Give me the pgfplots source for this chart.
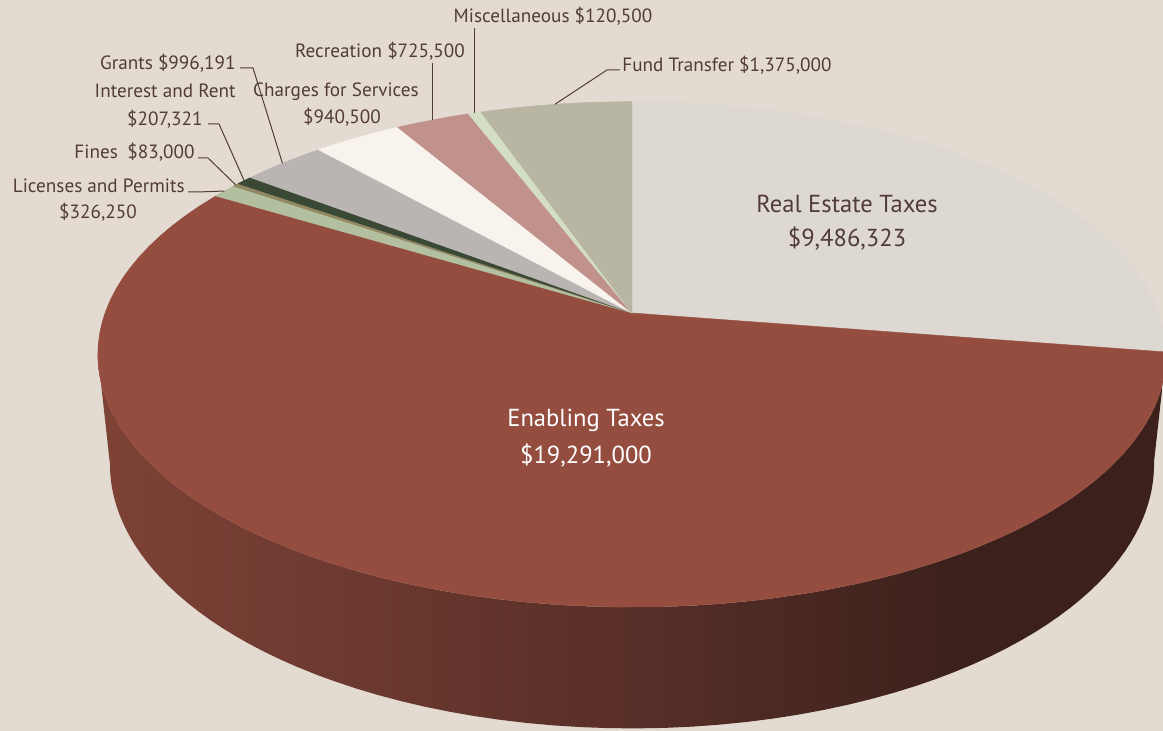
\documentclass[border=0pt]{standalone}
\usepackage{fontspec}
\setmainfont{PT Sans}
\usepackage{pgfplots}
\pgfplotsset{compat=1.18}

\definecolor{bgc}{RGB}{227,219,209}
\definecolor{textc}{RGB}{82,60,54}
\definecolor{realc}{RGB}{222,216,211}
\definecolor{enablec}{RGB}{149,77,64}
\definecolor{licc}{RGB}{178,192,160}
\definecolor{finesc}{RGB}{146,136,100}
\definecolor{intc}{RGB}{58,72,54}
\definecolor{grantc}{RGB}{186,181,178}
\definecolor{chargec}{RGB}{249,243,238}
\definecolor{recc}{RGB}{193,145,139}
\definecolor{miscc}{RGB}{212,222,197}
\definecolor{fundc}{RGB}{184,181,163}
\definecolor{wallL}{RGB}{126,66,54}
\definecolor{wallM}{RGB}{88,47,40}
\definecolor{wallR}{RGB}{59,32,28}

\pgfdeclarehorizontalshading{wallshade}{100bp}{color(0bp)=(wallL); color(25bp)=(wallL);
  color(50bp)=(wallM); color(66bp)=(wallR); color(100bp)=(wallR)}

% revenue in millions of dollars, clockwise from 12 o'clock:
% real estate, enabling, licenses, fines, interest, grants, charges, recreation, misc, fund transfer
\def\pievalues{9.486323,19.291,0.32625,0.083,0.207321,0.996191,0.9405,0.7255,0.1205,1.375}

\gdef\pietotal{0}
\foreach \v in \pievalues {\pgfmathsetmacro\tmp{\pietotal+\v}\xdef\pietotal{\tmp}}
\expandafter\xdef\csname th0\endcsname{90}
\gdef\piecum{0}
\foreach \v [count=\i] in \pievalues {%
  \pgfmathsetmacro\tmp{\piecum+\v}\xdef\piecum{\tmp}%
  \pgfmathsetmacro\ang{90-360*\piecum/\pietotal}%
  \expandafter\xdef\csname th\i\endcsname{\ang}}
\def\thname#1{\csname th#1\endcsname}

% tilted disc, drawn in pixel units (y downwards)
\tikzset{declare function={
  tq(\a)=atan2(0.75*sin(\a),cos(\a));
  pieu(\a)=632+527*cos(tq(\a))/(1+0.164*sin(tq(\a)));
  piev(\a)=313-246*sin(tq(\a))/(1+0.164*sin(tq(\a)));
  wallu(\a)=632+515*cos(tq(\a))/(1+0.164*sin(tq(\a)));
  wallv(\a)=421-257*sin(tq(\a))/(1+0.164*sin(tq(\a)));
}}
\tikzset{
  small/.style={font=\fontsize{9.6}{11}\selectfont, text=textc, inner sep=0pt},
  big/.style={font=\fontsize{12.3}{14}\selectfont, inner sep=0pt},
}

\newcommand\pieslice[3]{%
  \filldraw[fill=#3, draw=#3, line width=0.2pt] (632,313)
    \foreach \k in {0,...,60} {-- ({pieu(\thname{#1}+(\thname{#2}-(\thname{#1}))*\k/60)},
                                   {piev(\thname{#1}+(\thname{#2}-(\thname{#1}))*\k/60)})} -- cycle;}
\newcommand\midpt[2]{{pieu((\thname{#1}+\thname{#2})/2)},{piev((\thname{#1}+\thname{#2})/2)}}

\begin{document}
\begin{tikzpicture}
\begin{axis}[
  width=581.5pt, height=365.5pt, scale only axis,
  xmin=0, xmax=1163, ymin=0, ymax=731, y dir=reverse,
  hide axis,
]
\fill[bgc] (0,0) rectangle (1163,731);
\coordinate (ll) at (0,731);
\coordinate (ur) at (1163,0);

% side wall of the enabling taxes slice
\shade[shading=wallshade] ({pieu(\thname1)},{piev(\thname1)})
  \foreach \k in {1,...,80} {-- ({pieu(\thname1+(-167.5-(\thname1))*\k/80)},{piev(\thname1+(-167.5-(\thname1))*\k/80)})}
  \foreach \k in {0,...,80} {-- ({wallu(-167.5+(\thname1+167.5)*\k/80)},{wallv(-167.5+(\thname1+167.5)*\k/80)})}
  -- cycle;

\pieslice{0}{1}{realc}
\pieslice{1}{2}{enablec}
\pieslice{2}{3}{licc}
\pieslice{3}{4}{finesc}
\pieslice{4}{5}{intc}
\pieslice{5}{6}{grantc}
\pieslice{6}{7}{chargec}
\pieslice{7}{8}{recc}
\pieslice{8}{9}{miscc}
\pieslice{9}{10}{fundc}

% leader lines
\draw[textc, line width=0.5pt] (620,70) -- (607,70) -- (\midpt{9}{10});
\draw[textc, line width=0.5pt] ({pieu((\thname8+\thname9)/2)},28) -- (\midpt{8}{9});
\draw[textc, line width=0.5pt] ({pieu((\thname7+\thname8)/2)},63) -- (\midpt{7}{8});
\draw[textc, line width=0.5pt] (240,68) -- (253,68) -- (\midpt{5}{6});
\draw[textc, line width=0.5pt] (208,124) -- (219,124) -- (\midpt{4}{5});
\draw[textc, line width=0.5pt] (198,158) -- (208,158) -- (\midpt{3}{4});
\draw[textc, line width=0.5pt] (188,192) -- (198,192) -- (\midpt{2}{3});

% labels
\node[big, text=textc, anchor=mid] at (847,208) {Real Estate Taxes};
\node[big, text=textc, anchor=mid] at (847,242) {\$9,486,323};
\node[big, text=white, anchor=mid] at (586,422) {Enabling Taxes};
\node[big, text=white, anchor=mid] at (586,459) {\$19,291,000};
\node[small, anchor=mid] at (553,18) {Miscellaneous \$120,500};
\node[small, anchor=mid west] at (622,67) {Fund Transfer \$1,375,000};
\node[small, anchor=mid] at (380,53) {Recreation \$725,500};
\node[small, anchor=mid] at (336,92) {Charges for Services};
\node[small, anchor=mid] at (342,119) {\$940,500};
\node[small, anchor=mid east] at (236,65) {Grants \$996,191};
\node[small, anchor=mid east] at (236,93) {Interest and Rent};
\node[small, anchor=mid east] at (203,121) {\$207,321};
\node[small, anchor=mid east] at (195,154) {Fines\enspace\$83,000};
\node[small, anchor=mid east] at (185,188) {Licenses and Permits};
\node[small, anchor=mid] at (98,214) {\$326,250};
\end{axis}
\pgfresetboundingbox
\path[use as bounding box] (ll) rectangle (ur);
\end{tikzpicture}
\end{document}
